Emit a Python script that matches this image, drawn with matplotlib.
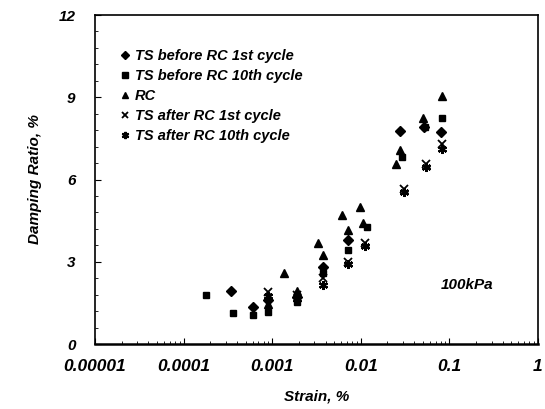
import matplotlib
matplotlib.use("Agg")
import matplotlib.pyplot as plt
from matplotlib.ticker import MultipleLocator, LogLocator, NullFormatter, FixedLocator, FixedFormatter

plt.rcParams['font.family'] = ['Liberation Sans', 'DejaVu Sans']

# TS before RC 1st cycle (diamonds)
ts1_strain = [0.00034, 0.0006, 0.0009, 0.0019, 0.0037, 0.0072, 0.028, 0.052, 0.08]
ts1_damp = [1.95, 1.35, 1.6, 1.7, 2.82, 3.8, 7.77, 7.9, 7.73]

# TS before RC 10th cycle (squares)
ts10_strain = [0.00018, 0.00036, 0.0006, 0.0009, 0.0019, 0.0037, 0.0072, 0.0117, 0.029, 0.053, 0.082]
ts10_damp = [1.8, 1.14, 1.05, 1.15, 1.55, 2.6, 3.43, 4.28, 6.81, 7.9, 8.24]

# RC (triangles)
rc_strain = [0.0009, 0.00137, 0.0019, 0.0033, 0.0037, 0.0062, 0.0072, 0.0098, 0.0105, 0.025, 0.028, 0.05, 0.082]
rc_damp = [1.45, 2.6, 1.95, 3.67, 3.25, 4.71, 4.16, 5.01, 4.43, 6.57, 7.08, 8.26, 9.05]

# TS after RC 1st cycle
ta1_strain = [0.0009, 0.0019, 0.0037, 0.0072, 0.0111, 0.031, 0.055, 0.082]
ta1_damp = [1.91, 1.8, 2.4, 3.0, 3.7, 5.65, 6.55, 7.3]

# TS after RC 10th cycle
ta10_strain = [0.0009, 0.0019, 0.0037, 0.0072, 0.0111, 0.031, 0.055, 0.082]
ta10_damp = [1.75, 1.65, 2.15, 2.92, 3.58, 5.55, 6.45, 7.1]

xticks = [0.00001, 0.0001, 0.001, 0.01, 0.1, 1]
xlabels = ["0.00001", "0.0001", "0.001", "0.01", "0.1", "1"]
yticks = [0, 3, 6, 9, 12]

fig = plt.figure(figsize=(5.45, 4.09), dpi=100)
ax = fig.add_axes([0.1743, 0.1589, 0.8128, 0.8044])

ax.plot(ts1_strain, ts1_damp, ls='none', marker='D', ms=5, color='black',
        label='TS before RC 1st cycle')
ax.plot(ts10_strain, ts10_damp, ls='none', marker='s', ms=5, color='black',
        label='TS before RC 10th cycle')
ax.plot(rc_strain, rc_damp, ls='none', marker='^', ms=6, color='black', label='RC')
ax.plot(ta1_strain, ta1_damp, ls='none', marker='x', ms=5.5, mew=1.3, color='black',
        label='TS after RC 1st cycle')
ax.plot(ta10_strain, ta10_damp, ls='none', marker=(6, 2, 0), ms=6.5, mew=1.6, color='black',
        label='TS after RC 10th cycle')

ax.set_xscale('log')
ax.set_xlim(0.00001, 1)
ax.set_ylim(0, 12)
ax.xaxis.set_major_locator(FixedLocator(xticks))
ax.xaxis.set_major_formatter(FixedFormatter(xlabels))
ax.xaxis.set_minor_locator(LogLocator(base=10, subs=range(2, 10)))
ax.xaxis.set_minor_formatter(NullFormatter())
ax.yaxis.set_major_locator(FixedLocator(yticks))
ax.yaxis.set_minor_locator(MultipleLocator(0.6))

tfont = dict(fontsize=11, fontweight='bold', fontstyle='italic')
for lab in ax.get_xticklabels():
    lab.set_fontsize(12.5)
    lab.set_fontweight('bold')
    lab.set_fontstyle('italic')
for lab in ax.get_yticklabels():
    lab.set_fontsize(11)
    lab.set_fontweight('bold')
    lab.set_fontstyle('italic')

ax.tick_params(which='major', direction='in', length=4, width=0.8, pad=11)
ax.tick_params(axis='y', which='major', pad=14)
ax.tick_params(which='minor', direction='in', length=2, width=0.6)

for s in ax.spines.values():
    s.set_linewidth(1.2)
ax.spines['bottom'].set_linewidth(1.8)

ax.set_xlabel('Strain, %', labelpad=11, **tfont)
ax.set_ylabel('Damping Ratio, %', labelpad=12, **tfont)

ax.text(0.84, 0.18, '100kPa', transform=ax.transAxes, ha='center', va='center', **tfont)

ax.legend(loc='upper left', bbox_to_anchor=(0.045, 0.915), frameon=False,
          handlelength=0.6, handletextpad=0.35, labelspacing=0.42, markerscale=0.8,
          borderaxespad=0, prop=dict(size=10.5, weight='bold', style='italic'))

fig.savefig('out.png', dpi=100)
